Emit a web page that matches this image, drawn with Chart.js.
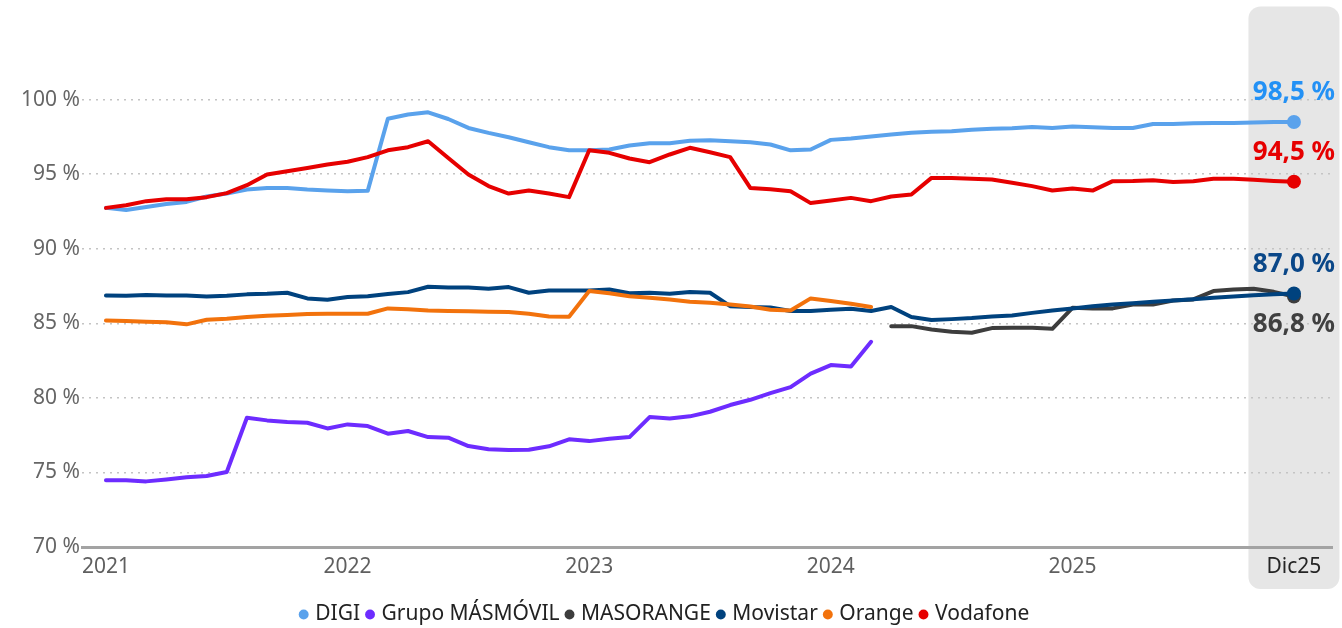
<!DOCTYPE html>
<html lang="es">
<head>
  <meta charset="UTF-8">
  <title>Cobertura por operador</title>
  <script src="https://cdn.jsdelivr.net/npm/chart.js"></script>
  <style>
    body {
      margin: 0;
      background: #fff;
    }
  </style>
</head>
<body>
  <canvas id="grafico" width="1342" height="628"></canvas>

  <script>
    // Meses desde ene-2021 (0) hasta dic-2025 (59)
    const xTickIndex = [0, 12, 24, 36, 48, 59];
    const xTickText = ['2021', '2022', '2023', '2024', '2025', 'Dic25'];
    const yTicks = [70, 75, 80, 85, 90, 95, 100];

    const digi = [92.74, 92.6, 92.8, 93.0, 93.14, 93.5, 93.7, 93.97, 94.08, 94.08, 93.97, 93.9,
      93.85, 93.88, 98.72, 99.0, 99.15, 98.7, 98.1, 97.77, 97.48, 97.14, 96.81, 96.6,
      96.6, 96.65, 96.92, 97.08, 97.08, 97.24, 97.28, 97.21, 97.14, 96.99, 96.6, 96.65,
      97.3, 97.39, 97.52, 97.66, 97.77, 97.84, 97.88, 97.98, 98.05, 98.08, 98.17, 98.1,
      98.2, 98.15, 98.1, 98.1, 98.36, 98.37, 98.42, 98.43, 98.43, 98.47, 98.49, 98.5];

    const masmovil = [74.47, 74.48, 74.4, 74.53, 74.67, 74.76, 75.03, 78.67, 78.49, 78.38, 78.33, 77.95,
      78.22, 78.11, 77.6, 77.78, 77.37, 77.33, 76.77, 76.55, 76.5, 76.52, 76.75, 77.22,
      77.1, 77.26, 77.37, 78.71, 78.62, 78.76, 79.07, 79.52, 79.87, 80.32, 80.72, 81.62,
      82.2, 82.11, 83.76];

    const masorangeDesde = 39;
    const masorange = [84.81, 84.81, 84.59, 84.43, 84.37, 84.68, 84.7, 84.7, 84.63,
      86.04, 86.0, 86.0, 86.26, 86.26, 86.53, 86.6, 87.16, 87.27, 87.32, 87.11, 86.8];

    const movistar = [86.87, 86.85, 86.89, 86.87, 86.87, 86.8, 86.85, 86.94, 86.98, 87.05, 86.67, 86.58,
      86.76, 86.82, 86.96, 87.09, 87.45, 87.4, 87.4, 87.32, 87.43, 87.05, 87.2, 87.2,
      87.2, 87.27, 87.02, 87.05, 86.98, 87.1, 87.05, 86.15, 86.09, 86.06, 85.82, 85.82,
      85.91, 85.97, 85.82, 86.09, 85.42, 85.22, 85.28, 85.35, 85.45, 85.53, 85.7, 85.86,
      86.0, 86.15, 86.26, 86.35, 86.44, 86.53, 86.62, 86.72, 86.8, 86.88, 86.95, 87.0];

    const orange = [85.19, 85.15, 85.1, 85.07, 84.93, 85.24, 85.3, 85.42, 85.5, 85.55, 85.62, 85.64,
      85.64, 85.64, 86.0, 85.95, 85.86, 85.82, 85.8, 85.78, 85.76, 85.64, 85.46, 85.44,
      87.16, 87.02, 86.82, 86.71, 86.6, 86.45, 86.38, 86.26, 86.13, 85.91, 85.86, 86.67,
      86.49, 86.31, 86.09];

    const vodafone = [92.74, 92.92, 93.19, 93.32, 93.32, 93.46, 93.73, 94.26, 94.98, 95.2, 95.42, 95.65,
      95.83, 96.14, 96.6, 96.81, 97.21, 96.09, 94.98, 94.2, 93.7, 93.9, 93.7, 93.46,
      96.6, 96.43, 96.05, 95.8, 96.32, 96.77, 96.47, 96.14, 94.08, 93.99, 93.86, 93.06,
      93.24, 93.41, 93.19, 93.5, 93.64, 94.75, 94.75, 94.69, 94.64, 94.42, 94.2, 93.9,
      94.04, 93.9, 94.53, 94.55, 94.6, 94.48, 94.53, 94.69, 94.7, 94.62, 94.55, 94.5];

    const ultimoMes = 59;
    const fuente = '"Noto Sans", "Open Sans", sans-serif';

    function puntos(valores, desde = 0) {
      return valores.map((v, i) => ({ x: desde + i, y: v }));
    }

    function serie(nombre, valores, color, desde, etiqueta) {
      return {
        label: nombre,
        data: puntos(valores, desde),
        borderColor: color,
        backgroundColor: color,
        borderWidth: 4,
        borderJoinStyle: 'round',
        borderCapStyle: 'round',
        tension: 0,
        pointRadius: ctx => (etiqueta && ctx.raw && ctx.raw.x === ultimoMes) ? 7 : 0,
        pointHoverRadius: 0,
        pointBorderWidth: 0,
        endLabel: etiqueta
      };
    }

    // Orden inverso: la primera serie se pinta encima (Vodafone arriba)
    const datasets = [
      serie('Vodafone', vodafone, '#e60000', 0, { color: '#e60000', pos: 'arriba' }),
      serie('Orange', orange, '#f2720c', 0, null),
      serie('Movistar', movistar, '#00427e', 0, { color: '#0a4788', pos: 'arriba' }),
      serie('MASORANGE', masorange, '#3d3d3d', masorangeDesde, { color: '#404040', pos: 'abajo' }),
      serie('Grupo MÁSMÓVIL', masmovil, '#6d2cff', 0, null),
      serie('DIGI', digi, '#5aa2ec', 0, { color: '#2391f5', pos: 'arriba' })
    ];

    const banda = {
      id: 'banda',
      beforeDraw(chart) {
        const { ctx, chartArea, scales: { x } } = chart;
        const cx = x.getPixelForValue(ultimoMes);
        const half = x.getPixelForValue(ultimoMes + 2.26) - cx;
        const top = chartArea.top - 8;
        const bottom = chartArea.bottom + 42;
        ctx.save();
        ctx.fillStyle = '#e6e6e6';
        ctx.beginPath();
        ctx.roundRect(cx - half, top, half * 2, bottom - top, 12);
        ctx.fill();
        ctx.restore();
      }
    };

    const etiquetasFinales = {
      id: 'etiquetasFinales',
      afterDatasetsDraw(chart) {
        const ctx = chart.ctx;
        chart.data.datasets.forEach((ds, di) => {
          if (!ds.endLabel) return;
          const meta = chart.getDatasetMeta(di);
          const pt = meta.data[meta.data.length - 1];
          const v = ds.data[ds.data.length - 1].y;
          const texto = v.toFixed(1).replace('.', ',') + ' %';
          ctx.save();
          ctx.font = 'bold 26px ' + fuente;
          ctx.fillStyle = ds.endLabel.color;
          ctx.textAlign = 'center';
          ctx.textBaseline = 'middle';
          const dy = ds.endLabel.pos === 'abajo' ? 28 : -29;
          ctx.fillText(texto, pt.x, pt.y + dy);
          ctx.restore();
        });
      }
    };

    new Chart(document.getElementById('grafico'), {
      type: 'line',
      data: { datasets },
      plugins: [banda, etiquetasFinales],
      options: {
        responsive: false,
        animation: false,
        spanGaps: false,
        layout: { padding: { top: 9, right: 10, left: 0, bottom: -7 } },
        plugins: {
          tooltip: { enabled: false },
          legend: {
            position: 'bottom',
            reverse: true,
            labels: {
              usePointStyle: true,
              pointStyle: 'circle',
              boxWidth: 2,
              boxHeight: 7,
              padding: 9,
              color: '#222',
              font: { family: fuente, size: 21 }
            }
          }
        },
        scales: {
          x: {
            type: 'linear',
            min: -1.19,
            max: 60.89,
            afterBuildTicks: s => { s.ticks = xTickIndex.map(v => ({ value: v })); },
            afterFit: s => { s.height = 48; },
            ticks: {
              autoSkip: false,
              maxRotation: 0,
              padding: 7,
              color: ctx => ctx.tick && ctx.tick.value === ultimoMes ? '#252525' : '#5f5f5f',
              font: { family: fuente, size: 21 },
              callback: v => xTickText[xTickIndex.indexOf(v)]
            },
            grid: { display: false, drawTicks: false },
            border: { display: true, color: '#a3a3a3', width: 3 }
          },
          y: {
            min: 70,
            max: 105.7,
            afterBuildTicks: s => { s.ticks = yTicks.map(v => ({ value: v })); },
            afterFit: s => { s.width = 82; },
            ticks: {
              padding: 2,
              color: '#666',
              font: { family: fuente, size: 21 },
              callback: v => v + ' %'
            },
            grid: { color: '#c4c4c4', lineWidth: 1.5, drawTicks: false },
            border: { display: false, dash: [2, 5] }
          }
        }
      }
    });
  </script>
</body>
</html>
